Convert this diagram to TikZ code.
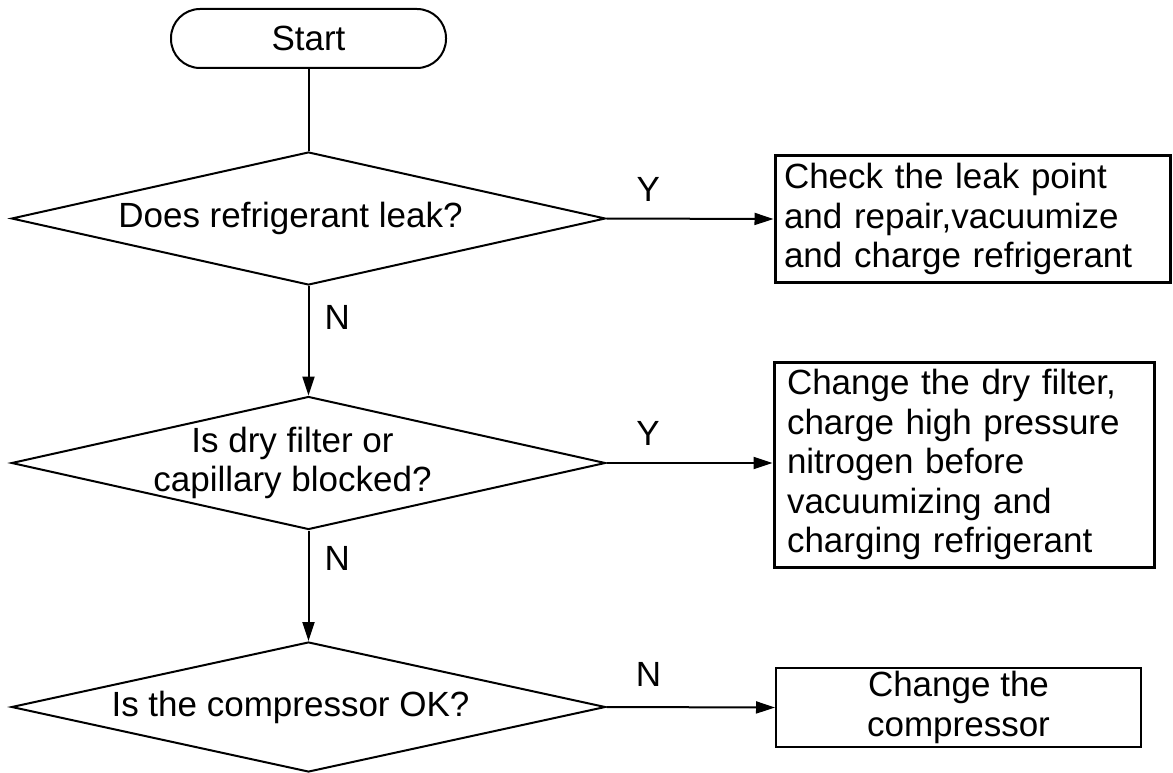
\documentclass[tikz,border=0pt]{standalone}
\usepackage{fontspec}
\setmainfont{Liberation Sans}
\usetikzlibrary{shapes.geometric,arrows.meta}
\tikzset{
	terminal/.style={
		draw, line width=2pt, rounded corners=29pt,
		minimum width=275pt, minimum height=59pt},
	decision/.style={
		draw, diamond, line width=2pt, inner sep=0pt,
		minimum width=594pt, minimum height=133pt},
	process/.style={
		draw, line width=3pt, align=left},
	flow/.style={
		line width=2pt, -{Triangle[length=19pt,width=12pt]}},
	tag/.style={inner sep=0pt}
}

\begin{document}
\begin{tikzpicture}[x=1pt,y=1pt,yscale=-1,xscale=1,font=\fontsize{35}{39.5}\selectfont]
\useasboundingbox (0,0) rectangle (1173,773); %set diagram to the size of the reference

\node[terminal] (start) at (308.5,38.5) {Start};

\node[decision, label={[xshift=-18pt]center:Does refrigerant leak?}] (leak) at (308.5,218.5) {};
\node[decision, label={[align=center,xshift=-16pt]center:Is dry filter or\\capillary blocked?}] (blocked) at (308.5,463) {};
\node[decision, minimum height=130pt, label={[xshift=-18pt]center:Is the compressor OK?}] (compressor) at (308.5,707) {};

\node[process, text width=377pt, inner xsep=9pt, minimum height=126pt] (repair) at (972.5,219) {Check the leak point\\and repair,vacuumize\\and charge refrigerant};
\node[process, text width=354pt, inner xsep=13pt, minimum height=205pt] (filter) at (964,464.5) {Change the dry filter,\\charge high pressure\\nitrogen before\\vacuumizing and\\charging refrigerant};
\node[process, line width=2pt, align=center, minimum width=365pt, minimum height=75pt] (change) at (958.5,707.5) {Change the\\compressor};

\draw[line width=2pt] (start) -- (leak.north);

\draw[flow] (leak.east) -- node[tag, pos=0.25, above=16.5pt] {Y} (repair.west);
\draw[flow] (leak.south) -- node[tag, pos=0.29, right=15pt] {N} (blocked.north);

\draw[flow] (blocked.east) -- node[tag, pos=0.25, above=16.5pt] {Y} (blocked.east -| filter.west);
\draw[flow] (blocked.south) -- node[tag, pos=0.25, right=15pt] {N} (compressor.north);

\draw[flow] (compressor.east) -- node[tag, pos=0.25, above=19.5pt] {N} (change.west);

\end{tikzpicture}
\end{document}
